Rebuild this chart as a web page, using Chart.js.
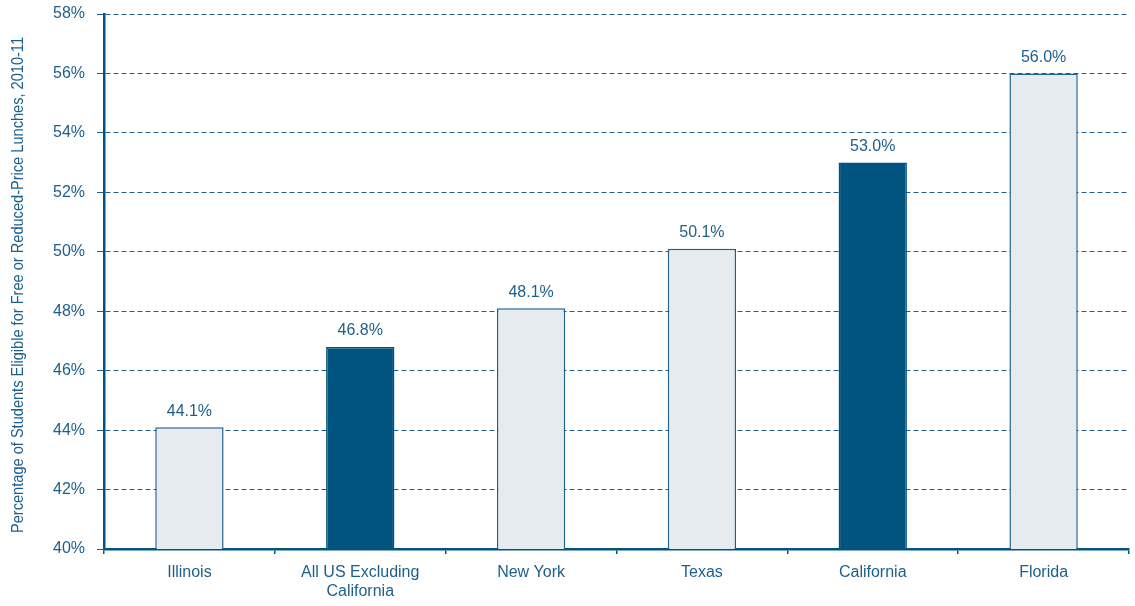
<!DOCTYPE html>
<html>
<head>
<meta charset="utf-8">
<script src="https://cdn.jsdelivr.net/npm/chart.js@4/dist/chart.umd.min.js"></script>
<style>
  html, body { margin: 0; padding: 0; background: #fff; }
  #wrap { width: 1135px; height: 606px; }
</style>
</head>
<body>
<div id="wrap"><canvas id="lunchChart"></canvas></div>
<script>
// Данные графика
const categories = ['Illinois', ['All US Excluding', 'California'], 'New York', 'Texas', 'California', 'Florida'];
const shares = [44.1, 46.8, 48.1, 50.1, 53.0, 56.0];
const highlighted = [false, true, false, false, true, false];
const yTicks = [40, 42, 44, 46, 48, 50, 52, 54, 56, 58];
const yTitle = 'Percentage of Students Eligible for Free or Reduced-Price Lunches, 2010-11';

const darkBlue = '#00547f';
const lightFill = '#e6ebf0';
const textBlue = '#1c5f8c';
const mainFont = '"Liberation Sans", Arial, sans-serif';

// Подписи над столбцами
const valueLabels = {
    id: 'valueLabels',
    afterDatasetsDraw(chart) {
        const ctx = chart.ctx;
        const meta = chart.getDatasetMeta(0);
        ctx.save();
        ctx.fillStyle = textBlue;
        ctx.font = '16px ' + mainFont;
        ctx.textAlign = 'center';
        ctx.textBaseline = 'bottom';
        meta.data.forEach((bar, i) => {
            ctx.fillText(shares[i].toFixed(1) + '%', bar.x, bar.y - 8);
        });
        ctx.restore();
    }
};

// Узкий (сжатый) заголовок оси Y
const narrowTitle = {
    id: 'narrowTitle',
    afterDraw(chart) {
        const ctx = chart.ctx;
        ctx.save();
        ctx.font = '16px ' + mainFont;
        ctx.fillStyle = textBlue;
        ctx.textAlign = 'center';
        ctx.textBaseline = 'middle';
        const w = ctx.measureText(yTitle).width;
        ctx.translate(19, 285);
        ctx.rotate(-Math.PI / 2);
        ctx.scale(496 / w, 1);
        ctx.fillText(yTitle, 0, 0);
        ctx.restore();
    }
};

const ctx = document.getElementById('lunchChart').getContext('2d');
new Chart(ctx, {
    type: 'bar',
    data: {
        labels: categories,
        datasets: [{
            data: shares,
            backgroundColor: highlighted.map(h => h ? darkBlue : lightFill),
            borderColor: highlighted.map(h => h ? darkBlue : '#1f618e'),
            borderWidth: 1.5,
            borderSkipped: 'bottom',
            categoryPercentage: 0.8,
            barPercentage: 0.5
        }]
    },
    options: {
        responsive: true,
        maintainAspectRatio: false,
        animation: false,
        layout: { padding: { top: 14, right: 6, left: 0, bottom: 0 } },
        plugins: {
            legend: { display: false },
            tooltip: { enabled: false }
        },
        scales: {
            x: {
                offset: true,
                grid: {
                    display: true,
                    offset: true,
                    drawOnChartArea: false,
                    tickLength: 5,
                    color: darkBlue,
                    lineWidth: 1.5
                },
                border: { display: true, color: darkBlue, width: 2.5 },
                ticks: {
                    color: textBlue,
                    font: { family: mainFont, size: 16 },
                    padding: 9,
                    maxRotation: 0,
                    autoSkip: false
                },
                afterFit(scale) { scale.height = 57; }
            },
            y: {
                min: 40,
                max: 58,
                afterBuildTicks(scale) {
                    scale.ticks = yTicks.map(v => ({ value: v }));
                },
                grid: {
                    color: '#245f8c',
                    lineWidth: 1,
                    tickLength: 7,
                    tickColor: '#245f8c'
                },
                border: { display: true, color: darkBlue, width: 2.5, dash: [5, 3] },
                ticks: {
                    color: textBlue,
                    font: { family: mainFont, size: 16 },
                    padding: 12,
                    callback: v => v + '%'
                },
                afterFit(scale) {
                    scale.width = 104;
                    scale.paddingTop = 0;
                    scale.paddingBottom = 0;
                }
            }
        }
    },
    plugins: [valueLabels, narrowTitle]
});
</script>
</body>
</html>
